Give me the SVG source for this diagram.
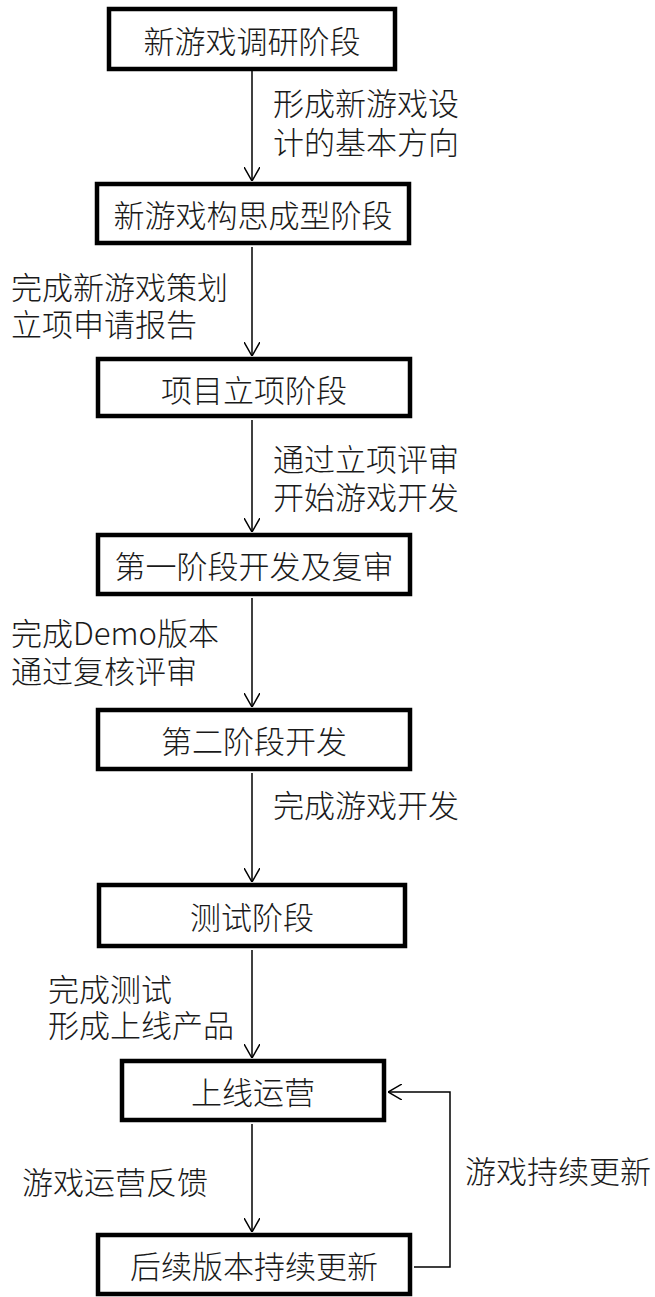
<svg xmlns="http://www.w3.org/2000/svg" width="655" height="1297" viewBox="0 0 655 1297">
<style>
.box{fill:#fff;stroke:#000;stroke-width:4.5}
.t{font-family:"Noto Sans CJK SC","Liberation Sans",sans-serif;font-size:31px;font-weight:300;fill:#1a1a1a}
.c{text-anchor:middle;dominant-baseline:central}
.conn{fill:none;stroke:#000;stroke-width:1.5}
</style>
<defs>
<marker id="arr" viewBox="0 0 14 16" refX="14" refY="8" markerWidth="14" markerHeight="16" markerUnits="userSpaceOnUse" orient="auto">
<path d="M0,0 L14,8 L0,16" fill="none" stroke="#000" stroke-width="1.5"/>
</marker>
</defs>
<rect width="655" height="1297" fill="#fff"/>
<g id="connectors">
<line class="conn" x1="252" y1="71" x2="252" y2="181" marker-end="url(#arr)"/>
<line class="conn" x1="252" y1="247" x2="252" y2="356" marker-end="url(#arr)"/>
<line class="conn" x1="252" y1="420" x2="252" y2="532" marker-end="url(#arr)"/>
<line class="conn" x1="252" y1="598" x2="252" y2="707" marker-end="url(#arr)"/>
<line class="conn" x1="252" y1="773" x2="252" y2="882" marker-end="url(#arr)"/>
<line class="conn" x1="252" y1="950" x2="252" y2="1058" marker-end="url(#arr)"/>
<line class="conn" x1="252" y1="1124" x2="252" y2="1232" marker-end="url(#arr)"/>
<polyline class="conn" points="414,1267 450,1267 450,1092 388,1092" marker-end="url(#arr)"/>
<text class="t" x="273" y="115"><tspan x="273" y="115">形成新游戏设</tspan><tspan x="273" y="154">计的基本方向</tspan></text>
<text class="t" x="11" y="299"><tspan x="11" y="299">完成新游戏策划</tspan><tspan x="11" y="336">立项申请报告</tspan></text>
<text class="t" x="273" y="471"><tspan x="273" y="471">通过立项评审</tspan><tspan x="273" y="509">开始游戏开发</tspan></text>
<text class="t" x="11" y="645"><tspan x="11" y="645">完成Demo版本</tspan><tspan x="11" y="683">通过复核评审</tspan></text>
<text class="t" x="273" y="817">完成游戏开发</text>
<text class="t" x="48" y="1001"><tspan x="48" y="1001">完成测试</tspan><tspan x="48" y="1037">形成上线产品</tspan></text>
<text class="t" x="22" y="1194">游戏运营反馈</text>
<text class="t" x="465" y="1183">游戏持续更新</text>
</g>
<g id="n1"><rect class="box" x="109" y="9" width="286" height="60"/><text class="t c" x="252" y="39">新游戏调研阶段</text></g>
<g id="n2"><rect class="box" x="97" y="184" width="312" height="59"/><text class="t c" x="253" y="213">新游戏构思成型阶段</text></g>
<g id="n3"><rect class="box" x="98" y="359" width="312" height="57"/><text class="t c" x="254" y="388">项目立项阶段</text></g>
<g id="n4"><rect class="box" x="98" y="535" width="312" height="59"/><text class="t c" x="254" y="564">第一阶段开发及复审</text></g>
<g id="n5"><rect class="box" x="98" y="710" width="312" height="59"/><text class="t c" x="254" y="739">第二阶段开发</text></g>
<g id="n6"><rect class="box" x="99" y="885" width="306" height="61"/><text class="t c" x="252" y="915">测试阶段</text></g>
<g id="n7"><rect class="box" x="122" y="1061" width="262" height="59"/><text class="t c" x="253" y="1090">上线运营</text></g>
<g id="n8"><rect class="box" x="98" y="1235" width="312" height="59"/><text class="t c" x="254" y="1264">后续版本持续更新</text></g>
</svg>
